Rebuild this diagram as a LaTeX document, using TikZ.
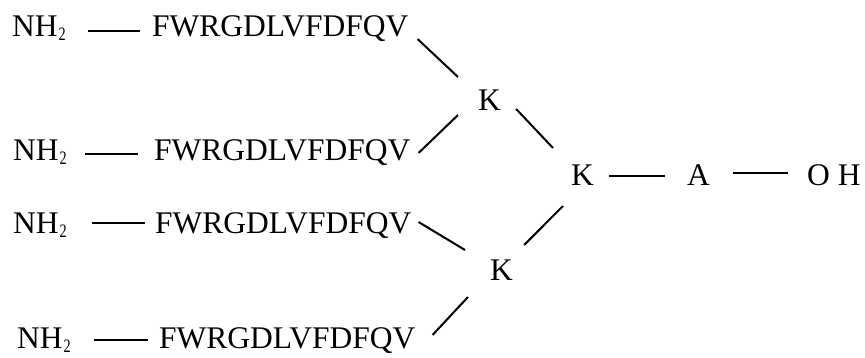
\documentclass[tikz,border=0pt]{standalone}
\usepackage{fontspec}
\setmainfont{Liberation Serif}
\usetikzlibrary{calc}
\newcommand{\subtwo}{\kern1pt\raisebox{-4.5pt}{\scalebox{0.75}[1]{\fontsize{19}{19}\selectfont 2}}}
\begin{document}
\begin{tikzpicture}[x=1pt,y=-1pt,
  lbl/.style={anchor=base west,inner sep=0pt,font=\fontsize{31.5}{32}\selectfont},
  bond/.style={line width=2pt}]
\useasboundingbox (0,0) rectangle (865,357);
% amino ends
\node[lbl] (n1) at (12,36) {NH\subtwo};
\node[lbl] (n2) at (13,160) {NH\subtwo};
\node[lbl] (n3) at (13,233) {NH\subtwo};
\node[lbl] (n4) at (17,348) {NH\subtwo};
% peptide chains
\node[lbl] (f1) at (152,36) {FWRGDLVFDFQV};
\node[lbl] (f2) at (154,160) {FWRGDLVFDFQV};
\node[lbl] (f3) at (155,233) {FWRGDLVFDFQV};
\node[lbl] (f4) at (159,348) {FWRGDLVFDFQV};
% lysines, alanine, hydroxyl
\node[lbl] (k1) at (478,110) {K};
\node[lbl] (k2) at (571,185) {K};
\node[lbl] (k3) at (490,280) {K};
\node[lbl] (a) at (687,185) {A};
\node[lbl] (oh) at (807,185) {O H};
% horizontal bonds
\draw[bond] ($(n1.base east)+(22,-5)$) -- ($(f1.base west)+(-12,-5)$);
\draw[bond] ($(n2.base east)+(18,-6)$) -- ($(f2.base west)+(-16,-6)$);
\draw[bond] ($(n3.base east)+(25,-10)$) -- ($(f3.base west)+(-10,-10)$);
\draw[bond] ($(n4.base east)+(23,-8)$) -- ($(f4.base west)+(-11,-8)$);
\draw[bond] ($(k2.base east)+(15,-9)$) -- ($(a.base west)+(-22,-9)$);
\draw[bond] ($(a.base east)+(23,-12)$) -- ($(oh.base west)+(-19,-12)$);
% diagonal bonds
\draw[bond] ($(f1.base east)+(9,3)$) -- ($(k1.base west)+(-20,-33)$);
\draw[bond] ($(f2.base east)+(8,-7)$) -- ($(k1.base west)+(-20,5)$);
\draw[bond] ($(k1.base east)+(15,-1)$) -- ($(k2.base west)+(-18,-37)$);
\draw[bond] ($(k2.base west)+(-8,21)$) -- ($(k3.base east)+(11,-35)$);
\draw[bond] ($(f3.base east)+(7,-11)$) -- ($(k3.base west)+(-25,-30)$);
\draw[bond] ($(k3.base west)+(-22,17)$) -- ($(f4.base east)+(17,-13)$);
\end{tikzpicture}
\end{document}
